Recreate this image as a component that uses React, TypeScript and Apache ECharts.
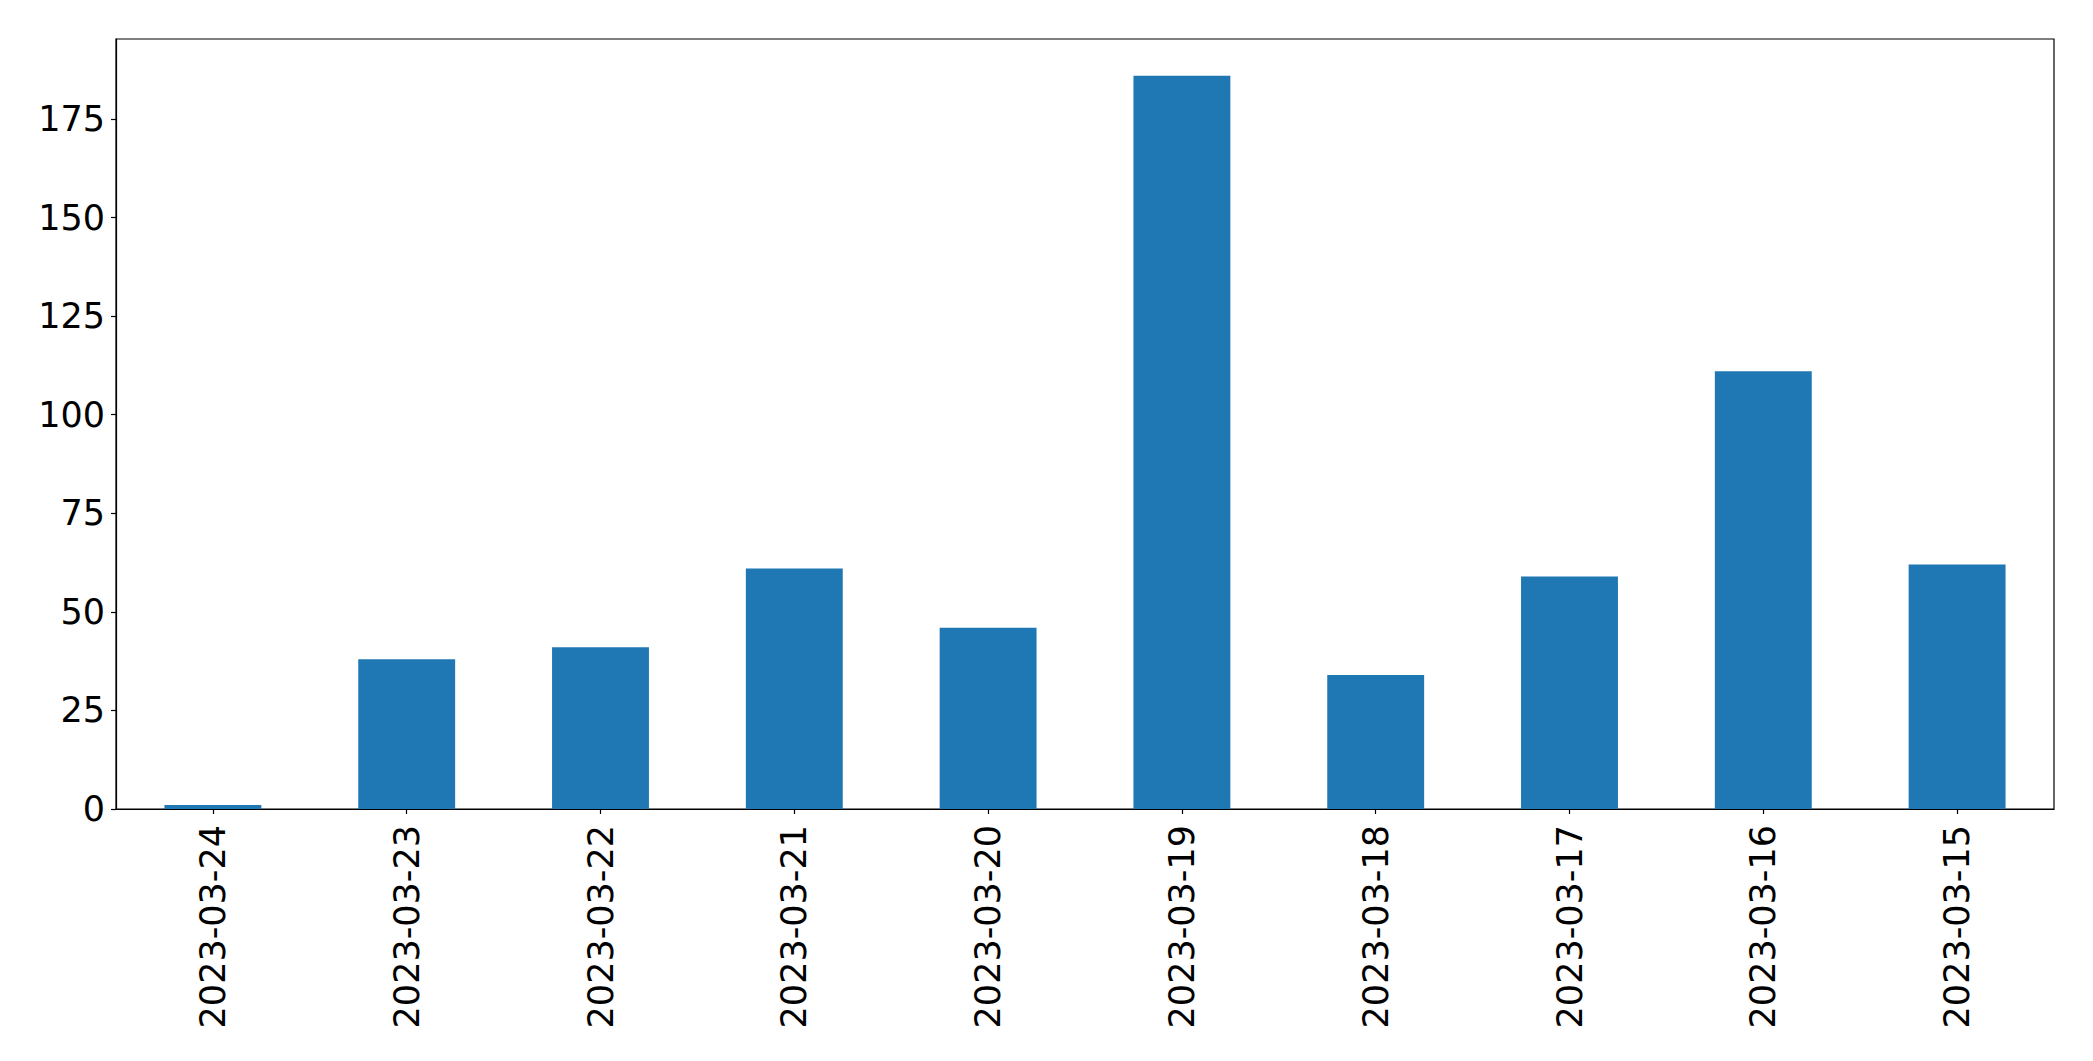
import React, { useEffect, useRef } from "react";
import * as echarts from "echarts";

const categories = [
  "2023-03-24",
  "2023-03-23",
  "2023-03-22",
  "2023-03-21",
  "2023-03-20",
  "2023-03-19",
  "2023-03-18",
  "2023-03-17",
  "2023-03-16",
  "2023-03-15",
];
const counts = [1, 38, 41, 61, 46, 186, 34, 59, 111, 62];
const yMax = 195.3;
const yInterval = 25;

export default function App() {
  const ref = useRef<HTMLDivElement>(null);
  useEffect(() => {
    if (!ref.current) return;
    const chart = echarts.init(ref.current, null, { renderer: "svg" });
    const font = "DejaVu Sans";
    chart.setOption({
      animation: false,
      backgroundColor: "#ffffff",
      grid: {
        left: 116,
        right: 39,
        top: 39,
        bottom: 252,
        show: true,
        borderColor: "#000000",
        borderWidth: 1.2,
        backgroundColor: "transparent",
      },
      xAxis: {
        type: "category",
        data: categories,
        boundaryGap: true,
        axisLine: { show: true, lineStyle: { color: "#000000", width: 1.2 } },
        axisTick: {
          show: true,
          alignWithLabel: true,
          length: 5,
          lineStyle: { color: "#000000", width: 1.2 },
        },
        axisLabel: {
          rotate: 90,
          margin: 16,
          fontSize: 35,
          fontFamily: font,
          color: "#000000",
          interval: 0,
        },
        splitLine: { show: false },
      },
      yAxis: {
        type: "value",
        min: 0,
        max: yMax,
        interval: yInterval,
        axisLine: { show: true, lineStyle: { color: "#000000", width: 1.2 } },
        axisTick: {
          show: true,
          length: 5,
          lineStyle: { color: "#000000", width: 1.2 },
        },
        axisLabel: {
          margin: 11,
          fontSize: 35,
          fontFamily: font,
          color: "#000000",
          showMaxLabel: false,
          formatter: (v: number) => (v % yInterval === 0 ? String(v) : ""),
        },
        splitLine: { show: false },
      },
      series: [
        {
          type: "bar",
          data: counts,
          barWidth: "50%",
          itemStyle: { color: "#1f77b4" },
        },
      ],
    });
    return () => chart.dispose();
  }, []);
  return (
    <div
      ref={ref}
      style={{ position: "fixed", left: 0, top: 0, width: 2093, height: 1061 }}
    />
  );
}
